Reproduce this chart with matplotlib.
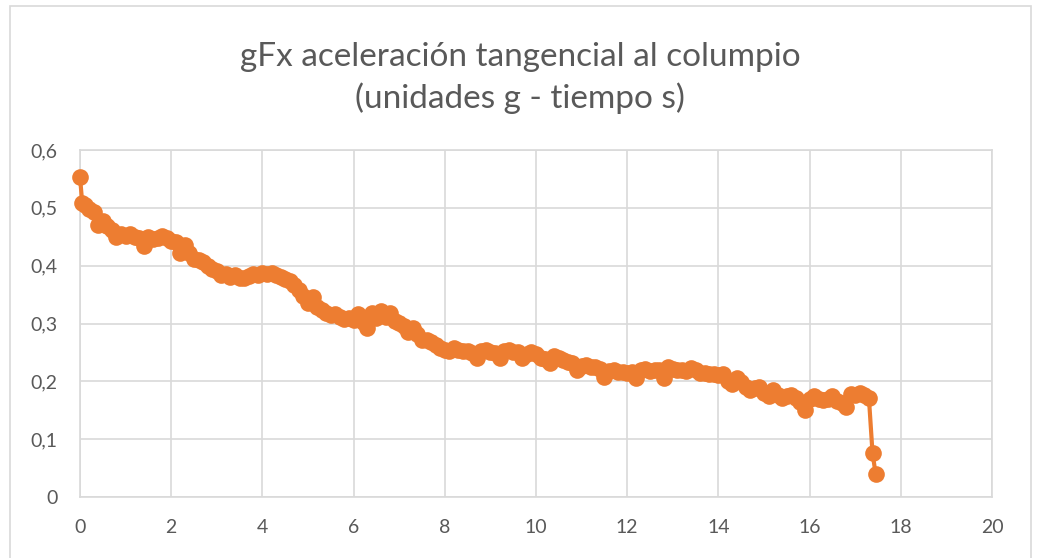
import matplotlib.pyplot as plt
from matplotlib.patches import Rectangle
from matplotlib.ticker import FuncFormatter

# tiempo (s)
tiempo = [
    0.0, 0.05, 0.1, 0.2, 0.3, 0.4, 0.5, 0.6, 0.7, 0.8, 0.9,
    1.0, 1.1, 1.2, 1.3, 1.4, 1.5, 1.6, 1.7, 1.8, 1.9,
    2.0, 2.1, 2.2, 2.3, 2.4, 2.5, 2.6, 2.7, 2.8, 2.9,
    3.0, 3.1, 3.2, 3.3, 3.4, 3.5, 3.6, 3.7, 3.8, 3.9,
    4.0, 4.1, 4.2, 4.3, 4.4, 4.5, 4.6, 4.7, 4.8, 4.9,
    5.0, 5.1, 5.2, 5.3, 5.4, 5.5, 5.6, 5.7, 5.8, 5.9,
    6.0, 6.1, 6.2, 6.3, 6.4, 6.5, 6.6, 6.7, 6.8, 6.9,
    7.0, 7.1, 7.2, 7.3, 7.4, 7.5, 7.6, 7.7, 7.8, 7.9,
    8.0, 8.1, 8.2, 8.3, 8.4, 8.5, 8.6, 8.7, 8.8, 8.9,
    9.0, 9.1, 9.2, 9.3, 9.4, 9.5, 9.6, 9.7, 9.8, 9.9,
    10.0, 10.1, 10.2, 10.3, 10.4, 10.5, 10.6, 10.7, 10.8, 10.9,
    11.0, 11.1, 11.2, 11.3, 11.4, 11.5, 11.6, 11.7, 11.8, 11.9,
    12.0, 12.1, 12.2, 12.3, 12.4, 12.5, 12.6, 12.7, 12.8, 12.9,
    13.0, 13.1, 13.2, 13.3, 13.4, 13.5, 13.6, 13.7, 13.8, 13.9,
    14.0, 14.1, 14.2, 14.3, 14.4, 14.5, 14.6, 14.7, 14.8, 14.9,
    15.0, 15.1, 15.2, 15.3, 15.4, 15.5, 15.6, 15.7, 15.8, 15.9,
    16.0, 16.1, 16.2, 16.3, 16.4, 16.5, 16.6, 16.7, 16.8, 16.9,
    17.0, 17.1, 17.2, 17.3, 17.38, 17.45,
]

# gFx (g)
gfx = [
    0.553, 0.508, 0.505, 0.498, 0.493, 0.471, 0.478, 0.468, 0.462, 0.449, 0.455,
    0.452, 0.455, 0.450, 0.447, 0.434, 0.450, 0.446, 0.448, 0.451, 0.447,
    0.443, 0.441, 0.422, 0.435, 0.422, 0.411, 0.410, 0.406, 0.400, 0.394,
    0.390, 0.383, 0.386, 0.381, 0.383, 0.378, 0.379, 0.382, 0.385, 0.383,
    0.388, 0.386, 0.388, 0.383, 0.381, 0.377, 0.373, 0.366, 0.358, 0.348,
    0.336, 0.346, 0.328, 0.323, 0.318, 0.314, 0.316, 0.311, 0.308, 0.310,
    0.306, 0.316, 0.302, 0.292, 0.318, 0.310, 0.321, 0.312, 0.319, 0.304,
    0.301, 0.296, 0.286, 0.292, 0.282, 0.272, 0.271, 0.268, 0.263, 0.257,
    0.255, 0.253, 0.258, 0.254, 0.252, 0.253, 0.249, 0.241, 0.252, 0.254,
    0.250, 0.249, 0.240, 0.252, 0.254, 0.250, 0.251, 0.241, 0.248, 0.251,
    0.247, 0.240, 0.238, 0.231, 0.243, 0.241, 0.237, 0.234, 0.232, 0.220,
    0.226, 0.228, 0.224, 0.225, 0.221, 0.208, 0.218, 0.220, 0.217, 0.216,
    0.214, 0.216, 0.205, 0.220, 0.221, 0.218, 0.220, 0.219, 0.206, 0.225,
    0.221, 0.219, 0.220, 0.218, 0.223, 0.219, 0.214, 0.214, 0.212, 0.213,
    0.211, 0.212, 0.200, 0.195, 0.205, 0.198, 0.190, 0.185, 0.189, 0.191,
    0.180, 0.174, 0.185, 0.177, 0.171, 0.175, 0.177, 0.172, 0.165, 0.151,
    0.170, 0.174, 0.169, 0.167, 0.170, 0.174, 0.166, 0.162, 0.155, 0.178,
    0.176, 0.179, 0.177, 0.172, 0.076, 0.039,
]

xticks = [0, 2, 4, 6, 8, 10, 12, 14, 16, 18, 20]
yticks = [0, 0.1, 0.2, 0.3, 0.4, 0.5, 0.6]

plt.rcParams['font.family'] = ['Lato', 'DejaVu Sans']

fig = plt.figure(figsize=(10.39, 5.58), dpi=100)
ax = fig.add_axes([80 / 1039, 1 - 497 / 558, 912 / 1039, 347 / 558])

# marco del grafico
fig.patches.append(Rectangle((10 / 1039, -0.05), 1021 / 1039, 1.05 - 6 / 558,
                             transform=fig.transFigure, fill=False,
                             edgecolor='#d9d9d9', linewidth=1.2))

ax.plot(tiempo, gfx, color='#ED7D31', linewidth=3, marker='o',
        markersize=12, markeredgewidth=0, zorder=3, clip_on=False)

ax.set_xlim(0, 20)
ax.set_ylim(0, 0.6)
ax.set_xticks(xticks)
ax.set_yticks(yticks)
ax.yaxis.set_major_formatter(FuncFormatter(lambda v, p: ('%g' % round(v, 1)).replace('.', ',')))
ax.grid(True, color='#d9d9d9', linewidth=1.2)
ax.set_axisbelow(True)
for s in ax.spines.values():
    s.set_color('#d9d9d9')
    s.set_linewidth(1.2)
ax.tick_params(length=0, labelsize=14, labelcolor='#595959')
ax.tick_params(axis='y', pad=16)
ax.tick_params(axis='x', pad=16)

fig.text(520 / 1039, 1 - 78 / 558, 'gFx aceleración tangencial al columpio\n(unidades g - tiempo s)',
         ha='center', va='center', fontsize=24, color='#595959',
         fontweight='normal', linespacing=1.42)

fig.savefig('out.png', dpi=100)
